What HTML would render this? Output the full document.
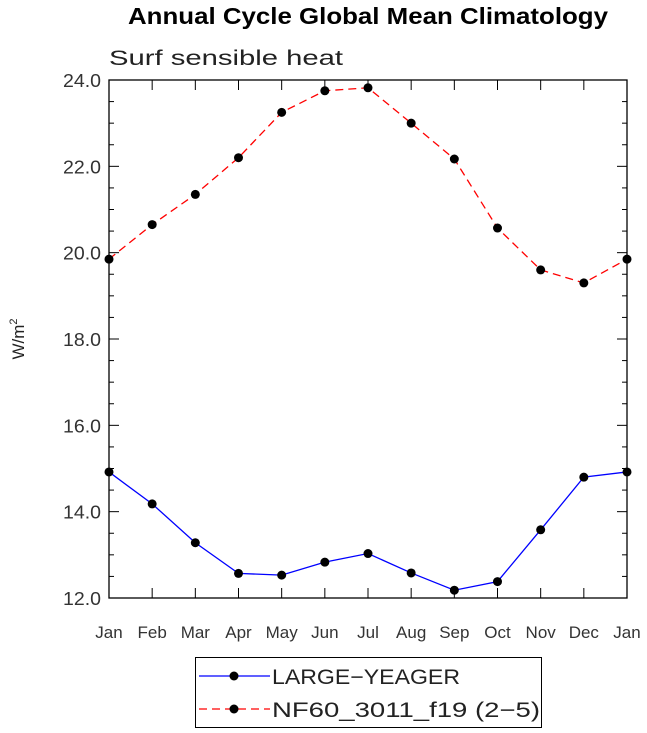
<!DOCTYPE html>
<html><head><meta charset="utf-8"><style>
body{margin:0;background:#fff;width:647px;height:733px;overflow:hidden}
svg{display:block}
text{font-family:"Liberation Sans",sans-serif}
</style></head><body>
<svg id="chart" width="647" height="733">
<text x="128" y="24" font-size="23" font-weight="bold" textLength="480" lengthAdjust="spacingAndGlyphs">Annual Cycle Global Mean Climatology</text>
<text x="109" y="65" font-size="21" fill="#222" textLength="234" lengthAdjust="spacingAndGlyphs">Surf sensible heat</text>
<text transform="translate(24,339) rotate(-90)" text-anchor="middle" font-size="17" fill="#222">W/m<tspan dy="-7" font-size="11">2</tspan></text>
<g id="axes"></g>
<g id="series"></g>
<g>
<rect x="195.5" y="657.5" width="346" height="70" fill="none" stroke="#000" stroke-width="1"/>
<g>
<line x1="199" y1="676" x2="270" y2="676" stroke="#0000ff" stroke-width="1.3"/>
<circle cx="234" cy="676" r="4.5" fill="#000"/>
<text x="272" y="684" font-size="21" fill="#222" textLength="188" lengthAdjust="spacingAndGlyphs">LARGE−YEAGER</text>
</g>
<g>
<line x1="199" y1="709" x2="270" y2="709" stroke="#ff0000" stroke-width="1.3" stroke-dasharray="8,5"/>
<circle cx="234" cy="709" r="4.5" fill="#000"/>
<text x="272" y="717" font-size="21" fill="#222" textLength="268" lengthAdjust="spacingAndGlyphs">NF60_3011_f19 (2−5)</text>
</g>
</g>
</svg>
<script>
const months=["Jan","Feb","Mar","Apr","May","Jun","Jul","Aug","Sep","Oct","Nov","Dec","Jan"];
const yTicks=[12,14,16,18,20,22,24];
const largeYeager=[14.92,14.18,13.28,12.57,12.53,12.83,13.03,12.58,12.18,12.38,13.58,14.80,14.92];
const nf60=[19.85,20.65,21.35,22.20,23.25,23.75,23.82,23.00,22.17,20.57,19.60,19.30,19.85];
const L=109,R=627,T=80,B=598,yMin=12,yMax=24;
const sx=i=>L+(R-L)*i/(months.length-1);
const sy=v=>B-(v-yMin)/(yMax-yMin)*(B-T);
const NS="http://www.w3.org/2000/svg";
function mk(tag,attrs,parent){const e=document.createElementNS(NS,tag);for(const k in attrs)e.setAttribute(k,attrs[k]);parent.appendChild(e);return e;}
const ax=document.getElementById('axes');
const frame=mk('rect',{x:L,y:T,width:R-L,height:B-T,fill:'none',stroke:'#000','stroke-width':1.3},ax);


for(let v=yMin;v<=yMax+1e-9;v+=0.5){
  const maj=Math.abs(v-Math.round(v/2)*2)<1e-9;const len=maj?10:5;const y=sy(v);
  mk('line',{x1:L,y1:y,x2:L+len,y2:y,stroke:'#000'},ax);
  mk('line',{x1:R,y1:y,x2:R-len,y2:y,stroke:'#000'},ax);
}
yTicks.forEach(v=>{const t=mk('text',{x:L-8,y:sy(v)+7,'text-anchor':'end','font-size':18,fill:'#333',textLength:38,lengthAdjust:'spacingAndGlyphs'},ax);t.textContent=v.toFixed(1);

});
months.forEach((m,i)=>{const x=sx(i);
  mk('line',{x1:x,y1:B,x2:x,y2:B-10,stroke:'#000'},ax);
  mk('line',{x1:x,y1:T,x2:x,y2:T+10,stroke:'#000'},ax);
  const t=mk('text',{x:x,y:638,'text-anchor':'middle','font-size':17,fill:'#333'},ax);t.textContent=m;
  
  });
const sg=document.getElementById('series');
function draw(vals,color,dash,name){
  const g=mk('g',{},sg);
  
  
  const pts=vals.map((v,i)=>sx(i)+','+sy(v)).join(' ');
  const a={points:pts,fill:'none',stroke:color,'stroke-width':1.3};if(dash)a['stroke-dasharray']=dash;
  mk('polyline',a,g);
  vals.forEach((v,i)=>{const c=mk('circle',{cx:sx(i),cy:sy(v),r:4.5,fill:'#000'},g);
    
    });
}
draw(largeYeager,'#0000ff',null,'series-large-yeager');
draw(nf60,'#ff0000','8,5','series-nf60');
</script>
</body></html>
